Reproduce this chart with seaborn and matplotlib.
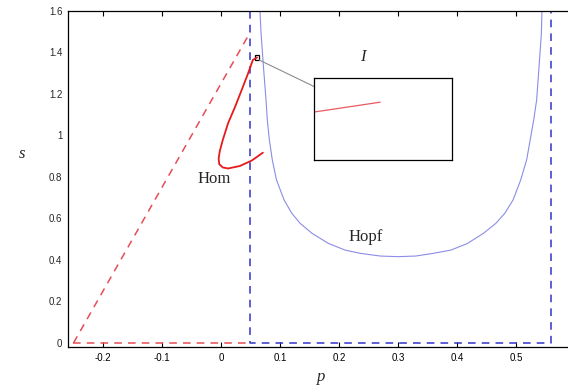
import numpy as np
import seaborn as sns
import matplotlib.pyplot as plt
from matplotlib.patches import Rectangle
from matplotlib.lines import Line2D

# saddle-node line (red dashed)
sn_p = [-0.25, 0.05]
sn_s = [0.0, 1.5]
base_p = [-0.25, 0.05]
base_s = [0.0, 0.0]

# blue dashed box
box_p = [0.05, 0.05, 0.56, 0.56]
box_s = [1.6, 0.0, 0.0, 1.6]

# Hopf curve
hopf_p = [0.066, 0.068, 0.070, 0.072, 0.0763, 0.0785, 0.082, 0.087, 0.094, 0.107, 0.120,
          0.134, 0.154, 0.182, 0.210, 0.236, 0.270, 0.300, 0.330, 0.360, 0.390, 0.418,
          0.445, 0.466, 0.481, 0.495, 0.508, 0.518, 0.524, 0.530, 0.535, 0.539, 0.541,
          0.543, 0.544]
hopf_s = [1.60, 1.49, 1.41, 1.33, 1.171, 1.075, 0.978, 0.882, 0.786, 0.689, 0.625,
          0.577, 0.529, 0.480, 0.448, 0.432, 0.419, 0.416, 0.419, 0.432, 0.448, 0.480,
          0.529, 0.577, 0.625, 0.689, 0.786, 0.882, 0.978, 1.075, 1.171, 1.33, 1.41,
          1.49, 1.60]

# homoclinic curve
hom_p = [0.061, 0.054, 0.046, 0.035, 0.024, 0.012, 0.003, -0.002, -0.004, -0.003, 0.003,
         0.012, 0.032, 0.052, 0.071]
hom_s = [1.376, 1.364, 1.30, 1.219, 1.139, 1.059, 0.978, 0.925, 0.89, 0.862, 0.846,
         0.841, 0.853, 0.879, 0.917]

# zoomed view I (inset coordinates)
inset_x = [0.0, 0.48]
inset_y = [0.585, 0.705]

xticks = [-0.2, -0.1, 0, 0.1, 0.2, 0.3, 0.4, 0.5]
yticks = [0, 0.2, 0.4, 0.6, 0.8, 1, 1.2, 1.4, 1.6]

sns.set_style("white")
plt.rcParams['font.family'] = ['Liberation Sans', 'DejaVu Sans']

fig = plt.figure(figsize=(5.68, 3.85), dpi=100)
ax = fig.add_axes([68 / 568, 38.5 / 385, 507 / 568, 335.5 / 385])

red_dash = (0.90, 0.30, 0.33)
blue_dash = (0.20, 0.20, 0.80)
hopf_col = (0.55, 0.55, 0.90)

sns.lineplot(x=sn_p, y=sn_s, ax=ax, color=red_dash, lw=1.1, linestyle=(0, (5, 4)))
sns.lineplot(x=base_p, y=base_s, ax=ax, color=red_dash, lw=1.1, linestyle=(0, (5, 4)))
ax.plot(box_p, box_s, color=blue_dash, lw=1.1, linestyle=(0, (5, 4)))
sns.lineplot(x=hopf_p, y=hopf_s, ax=ax, sort=False, estimator=None, color=hopf_col, lw=0.8)
sns.lineplot(x=hom_p, y=hom_s, ax=ax, sort=False, estimator=None, color=(0.9, 0.1, 0.1), lw=1.3)

ax.set_xlim(-0.2593, 0.6)
ax.set_ylim(-0.017, 1.6)
ax.set_xticks(xticks)
ax.set_xticklabels(["-0.2", "-0.1", "0", "0.1", "0.2", "0.3", "0.4", "0.5"])
ax.set_yticks(yticks)
ax.set_yticklabels(["0", "0.2", "0.4", "0.6", "0.8", "1", "1.2", "1.4", "1.6"])
ax.tick_params(axis='x', direction='in', length=3.5, width=0.8, top=True, bottom=True,
               labelsize=7, pad=5, colors='black')
ax.tick_params(axis='y', direction='in', length=0, labelsize=7, pad=4)
for side in ['top', 'bottom', 'left']:
    ax.spines[side].set_color('black')
    ax.spines[side].set_linewidth(0.9)
ax.spines['right'].set_visible(False)

serif = ['Liberation Serif', 'DejaVu Serif']
ax.set_xlabel("p", fontsize=12, family=serif, style='italic', labelpad=4)
ax.set_ylabel("s", fontsize=12, family=serif, style='italic', rotation=0, labelpad=48)
ax.yaxis.set_label_coords(-0.09, 0.55)

ax.text(-0.011, 0.79, "Hom", fontsize=12, family=serif, ha='center', va='center')
ax.text(0.245, 0.513, "Hopf", fontsize=12, family=serif, ha='center', va='center')

# small marker square and connector to the zoom box
ax.add_patch(Rectangle((0.0573, 1.364), 0.0073, 0.024, fill=False, ec='black', lw=0.9))
ax.add_line(Line2D([0.0646, 0.1585], [1.364, 1.235], color='0.55', lw=0.8))

ins = ax.inset_axes([(314 - 68) / 507, (346.5 - 160) / 335.5, 138 / 507, 82 / 335.5])
ins.plot(inset_x, inset_y, color=(0.92, 0.35, 0.38), lw=0.9)
ins.set_xlim(0, 1)
ins.set_ylim(0, 1)
ins.set_xticks([])
ins.set_yticks([])
for sp in ins.spines.values():
    sp.set_color('black')
    sp.set_linewidth(0.9)
ax.text(0.241, 1.38, "I", fontsize=12, family=serif, style='italic', ha='center', va='center')

fig.savefig("out.png", dpi=100)
